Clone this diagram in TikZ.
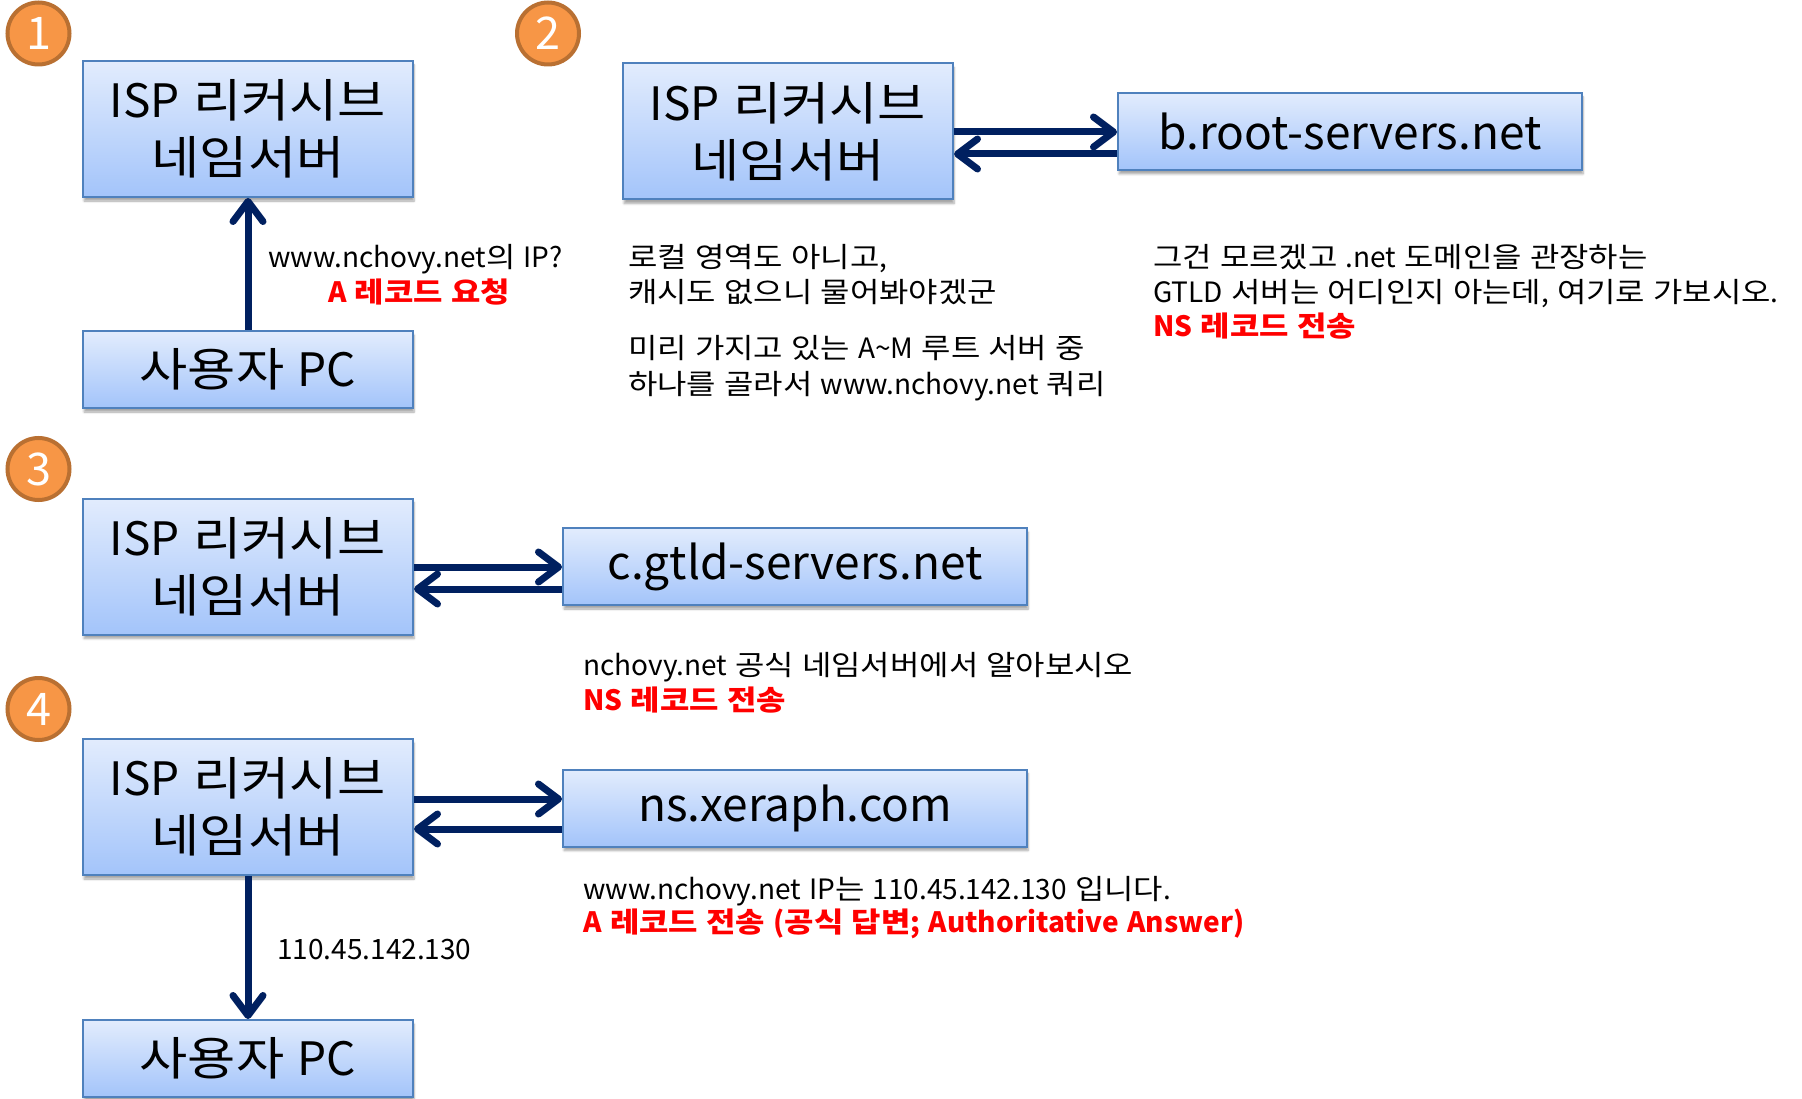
\documentclass[tikz,border=0pt]{standalone}
\usepackage{fontspec}
\setmainfont{Noto Sans CJK KR}[WordSpace=1.3]
\newfontfamily\hangulfont{Noto Sans CJK KR}[FakeStretch=1.14,WordSpace=1.3]
\XeTeXinterchartokenstate=1
\newXeTeXintercharclass\HanClass
\newcount\hccount
\hccount="AC00
\loop\ifnum\hccount<"D7A4 \XeTeXcharclass\hccount=\HanClass \advance\hccount by 1 \repeat
\XeTeXinterchartoks 0 \HanClass = {\begingroup\hangulfont}
\XeTeXinterchartoks 4095 \HanClass = {\begingroup\hangulfont}
\XeTeXinterchartoks \HanClass 0 = {\endgroup}
\XeTeXinterchartoks \HanClass 4095 = {\endgroup}
\usetikzlibrary{arrows.meta,shadows.blur}
\definecolor{navy}{RGB}{0,32,96}
\definecolor{boxtop}{RGB}{226,236,253}
\definecolor{boxbot}{RGB}{163,196,250}
\definecolor{boxline}{RGB}{79,129,189}
\definecolor{orfill}{RGB}{247,150,70}
\definecolor{orline}{RGB}{185,112,50}
\definecolor{redtxt}{RGB}{255,0,0}
\tikzset{
  server/.style={rectangle, draw=boxline, line width=2pt, top color=boxtop, bottom color=boxbot,
    blur shadow={shadow xshift=1pt, shadow yshift=-4pt, shadow opacity=35, shadow blur steps=6},
    align=center, inner sep=0pt, font=\fontsize{46}{57}\selectfont},
  ispbox/.style={server, minimum width=330pt, minimum height=136pt},
  pcbox/.style={server, minimum width=330pt, minimum height=77pt},
  hostbox/.style={server, minimum width=464pt, minimum height=77pt},
  badge/.style={circle, fill=orfill, draw=orline, line width=4pt, minimum size=62pt, inner sep=0pt,
    text=white, font=\fontsize{45}{45}\selectfont},
  flow/.style={draw=navy, line width=7pt, -{Straight Barb[length=20pt,width=30pt,round]}},
  note/.style={anchor=base west, inner sep=0pt, font=\fontsize{28}{34}\selectfont},
  rednote/.style={note, text=redtxt, font=\fontsize{28}{34}\selectfont\bfseries},
}
\begin{document}
\begin{tikzpicture}[x=1pt,y=-1pt]
\useasboundingbox (0,0) rectangle (1802,1099);
\begin{scope}
\clip (0,0) rectangle (1802,1099);
% badges
\node[badge] (b1) at (38.5,33.5) {1};
\node[badge] (b2) at (548,33.5) {2};
\node[badge] (b3) at (38.5,469) {3};
\node[badge] (b4) at (38.5,709) {4};

% step 1
\node[ispbox] (isp1) at (248,129) {ISP 리커시브\\네임서버};
\node[pcbox] (pc1) at (248,369.5) {사용자 PC};
\draw[flow] (pc1.north) -- (isp1.south);
\node[note] (t1a) at (268,268) {www.nchovy.net의 IP?};
\node[rednote, anchor=base] (t1b) at (419,303) {A 레코드 요청};

% step 2
\node[ispbox] (isp2) at (788,131.5) {ISP 리커시브\\네임서버};
\node[hostbox] (root) at (1350,131.5) {b.root-servers.net};
\draw[flow] (isp2.east |- 0,132) -- (root.west |- 0,132);
\draw[flow] (root.west |- 0,154) -- (isp2.east |- 0,154);
\node[note] (t2a) at (628,268) {로컬 영역도 아니고,};
\node[note] (t2b) at (628,303) {캐시도 없으니 물어봐야겠군};
\node[note] (t2c) at (628,359) {미리 가지고 있는 A\textasciitilde M 루트 서버 중};
\node[note] (t2d) at (628,394) {하나를 골라서 www.nchovy.net 쿼리};
\node[note] (t2e) at (1153,268) {그건 모르겠고 .net 도메인을 관장하는};
\node[note] (t2f) at (1153,303) {GTLD 서버는 어디인지 아는데, 여기로 가보시오.};
\node[rednote] (t2g) at (1153,337) {NS 레코드 전송};

% step 3
\node[ispbox] (isp3) at (248,566.5) {ISP 리커시브\\네임서버};
\node[hostbox] (gtld) at (795,566.5) {c.gtld-servers.net};
\draw[flow] (isp3.east |- 0,567) -- (gtld.west |- 0,567);
\draw[flow] (gtld.west |- 0,589) -- (isp3.east |- 0,589);
\node[note] (t3a) at (583,675) {nchovy.net 공식 네임서버에서 알아보시오};
\node[rednote] (t3b) at (583,710) {NS 레코드 전송};

% step 4
\node[ispbox] (isp4) at (248,807) {ISP 리커시브\\네임서버};
\node[hostbox] (ns) at (795,808) {ns.xeraph.com};
\draw[flow] (isp4.east |- 0,799) -- (ns.west |- 0,799);
\draw[flow] (ns.west |- 0,829) -- (isp4.east |- 0,829);
\node[note] (t4a) at (583,899) {www.nchovy.net IP는 110.45.142.130 입니다.};
\node[rednote] (t4b) at (583,932) {A 레코드 전송 (공식 답변; Authoritative Answer)};
\node[pcbox] (pc2) at (248,1058.5) {사용자 PC};
\draw[flow] (isp4.south) -- (pc2.north);
\node[note] (t4c) at (277,959) {110.45.142.130};
\end{scope}
\end{tikzpicture}
\end{document}
